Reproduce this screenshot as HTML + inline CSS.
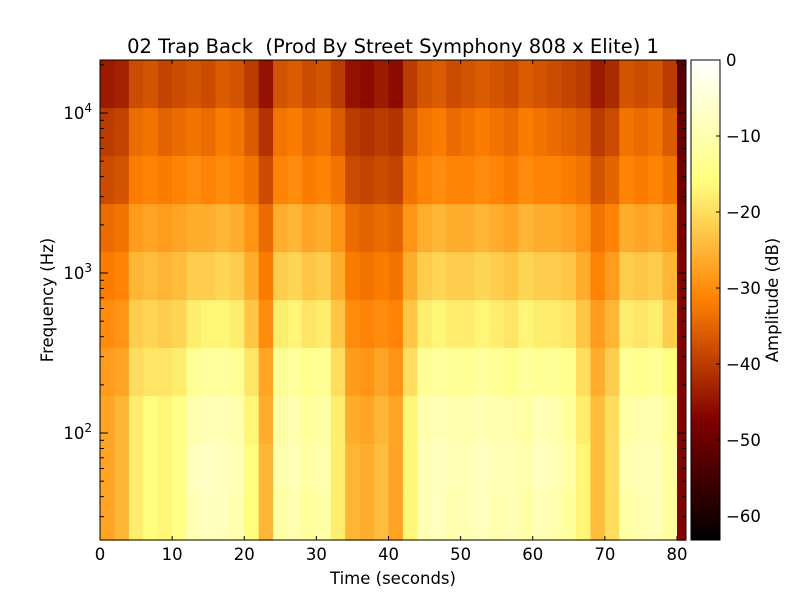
<!DOCTYPE html>
<html><head><meta charset="utf-8"><style>
body{margin:0;background:#fff}
svg text{font-family:"DejaVu Sans","Liberation Sans",sans-serif;fill:#000}
</style></head><body>
<svg id="chart" width="800" height="600" viewBox="0 0 800 600" xmlns="http://www.w3.org/2000/svg">
<defs>
<linearGradient id="cbg" x1="0" y1="1" x2="0" y2="0">
<stop offset="0" stop-color="#000"/><stop offset="0.25" stop-color="#800000"/><stop offset="0.5" stop-color="#ff8000"/><stop offset="0.75" stop-color="#ffff80"/><stop offset="1" stop-color="#fff"/>
</linearGradient>
</defs>
<rect width="800" height="600" fill="#fff"/>
<g id="cells"></g>
<rect x="100" y="60" width="586" height="480" fill="none" stroke="#000" stroke-width="1"/>
<g id="axes"></g>
<text x="393" y="53" font-size="19.5" text-anchor="middle" xml:space="preserve">02 Trap Back  (Prod By Street Symphony 808 x Elite) 1</text>
<text x="393" y="584" font-size="16.5" text-anchor="middle">Time (seconds)</text>
<text transform="translate(53,300) rotate(-90)" font-size="16.5" text-anchor="middle">Frequency (Hz)</text>
<rect x="691" y="60" width="29" height="480" fill="url(#cbg)" stroke="#000" stroke-width="1"/>
<g id="cbaxis"></g>
<text transform="translate(778,300) rotate(-90)" font-size="16.5" text-anchor="middle">Amplitude (dB)</text>
</svg>
<script>
const timeStarts=[0,2,4,6,8,10,12,14,16,18,20,22,24,26,28,30,32,34,36,38,40,42,44,46,48,50,52,54,56,58,60,62,64,66,68,70,72,74,76,78,80];
const timeEnd=81.25;
const bandEdgesLog=[4.33,4.03,3.73,3.43,3.13,2.83,2.53,2.23,1.93,1.63,1.33];
const dbRows=[
[-44,-43,-38,-37,-39,-38,-37,-38,-36,-37,-40,-45,-37,-36,-38,-37,-40,-45,-46,-44,-46,-40,-37,-36,-38,-37,-36,-37,-38,-36,-37,-38,-39,-40,-44,-42,-37,-38,-37,-40,-52],
[-40,-39,-34,-33,-35,-34,-33,-34,-32,-33,-36,-41,-33,-32,-34,-33,-36,-40,-41,-40,-41,-36,-33,-32,-34,-33,-32,-33,-34,-32,-33,-34,-35,-36,-40,-38,-33,-34,-33,-36,-50],
[-38,-37,-32,-31,-32,-31,-30,-31,-30,-31,-33,-38,-31,-30,-32,-31,-33,-38,-39,-38,-39,-33,-31,-30,-31,-31,-30,-31,-32,-30,-31,-31,-32,-33,-37,-35,-31,-32,-31,-33,-49],
[-34,-33,-28,-27,-28,-27,-26,-26,-25,-26,-29,-34,-26,-25,-27,-26,-29,-34,-35,-34,-35,-29,-26,-25,-26,-26,-25,-26,-27,-25,-26,-26,-27,-29,-33,-31,-26,-27,-26,-28,-48],
[-32,-31,-25,-24,-25,-24,-22,-22,-21,-22,-26,-32,-22,-21,-23,-22,-26,-32,-33,-32,-33,-26,-22,-21,-22,-22,-21,-22,-23,-21,-22,-22,-23,-26,-31,-28,-22,-23,-22,-25,-47],
[-30,-29,-22,-21,-22,-21,-18,-17,-17,-18,-23,-30,-18,-17,-19,-18,-23,-30,-31,-30,-31,-23,-18,-17,-18,-18,-17,-18,-19,-17,-18,-18,-19,-23,-28,-25,-18,-19,-18,-22,-47],
[-28,-27,-20,-19,-19,-18,-13,-12,-12,-13,-19,-27,-13,-12,-14,-13,-20,-28,-29,-27,-29,-20,-13,-12,-13,-13,-12,-13,-14,-12,-13,-13,-14,-20,-26,-22,-13,-14,-13,-16,-47],
[-27,-25,-18,-16,-17,-15,-10,-9,-9,-10,-17,-26,-11,-10,-12,-11,-18,-26,-27,-25,-27,-17,-10,-9,-10,-10,-9,-10,-10,-11,-9,-10,-12,-18,-24,-20,-11,-10,-10,-13,-47],
[-27,-25,-18,-16,-17,-15,-8,-7,-8,-9,-16,-25,-10,-9,-11,-10,-18,-25,-26,-24,-27,-17,-9,-8,-9,-9,-8,-9,-9,-10,-8,-9,-11,-17,-24,-20,-10,-9,-9,-12,-47],
[-27,-25,-18,-16,-17,-15,-9,-8,-8,-10,-16,-25,-11,-10,-12,-11,-18,-25,-26,-24,-27,-17,-9,-8,-10,-9,-8,-10,-9,-11,-9,-10,-12,-17,-24,-20,-11,-10,-9,-12,-47]
];
const xTicks=[0,10,20,30,40,50,60,70,80];
const yTickExps=[2,3,4];
const cbTicks=[0,-10,-20,-30,-40,-50,-60];
const dbMin=-63.16,dbMax=0;
const X0=100,X1=686,Y0=60,Y1=540;
const tMax=81.25,logTop=4.33125,logBot=1.33125;
function xs(t){return X0+(t/tMax)*(X1-X0);}
function ys(lg){return Y0+(logTop-lg)/(logTop-logBot)*(Y1-Y0);}
function cy(db){return Y0+(dbMax-db)/(dbMax-dbMin)*(Y1-Y0);}
function afmhot(db){let x=(db-dbMin)/(dbMax-dbMin);x=Math.max(0,Math.min(1,x));
 const c=v=>Math.round(255*Math.max(0,Math.min(1,v)));return `rgb(${c(2*x)},${c(2*x-0.5)},${c(2*x-1)})`;}
const NS='http://www.w3.org/2000/svg';
function mk(tag,at,parent){const e=document.createElementNS(NS,tag);for(const k in at)e.setAttribute(k,at[k]);parent.appendChild(e);return e;}
const cells=document.getElementById('cells');
dbRows.forEach((row,r)=>{row.forEach((v,c)=>{
 const t0=timeStarts[c],t1=c+1<timeStarts.length?timeStarts[c+1]:timeEnd;
 const x=xs(t0),w=xs(t1)-x,y=ys(bandEdgesLog[r]),h=ys(bandEdgesLog[r+1])-y;
 const e=mk('rect',{x:x,y:y,width:w+0.5,height:h+0.5,fill:afmhot(v)},cells);
 
 
});});
const ax=document.getElementById('axes');
xTicks.forEach(t=>{const x=xs(t);
 const a=mk('line',{x1:x,y1:Y1,x2:x,y2:Y1-4,stroke:'#000'},ax);
 
 
 const b=mk('line',{x1:x,y1:Y0,x2:x,y2:Y0+4,stroke:'#000'},ax);
 
 
 const l=mk('text',{x:x,y:Y1+20,'font-size':'16.5','text-anchor':'middle'},ax);l.textContent=t;
 
 
});
for(let e=1;e<=4;e++){for(let m=1;m<10;m++){const lg=e+Math.log10(m);if(lg<logBot||lg>logTop)continue;
 const y=ys(lg),len=m===1?8:4;
 const a=mk('line',{x1:X0,y1:y,x2:X0+len,y2:y,stroke:'#000'},ax);
 
 
 const b=mk('line',{x1:X1,y1:y,x2:X1-len,y2:y,stroke:'#000'},ax);
 
 
}}
yTickExps.forEach(p=>{const y=ys(p);
 const t=mk('text',{x:X0-8,y:y+6,'font-size':'16.5','text-anchor':'end'},ax);
 
 
 t.textContent='10';const s=mk('tspan',{dy:'-7','font-size':'12'},t);s.textContent=p;
});
const cb=document.getElementById('cbaxis');
cbTicks.forEach(v=>{const y=cy(v);
 const a=mk('line',{x1:720,y1:y,x2:716,y2:y,stroke:'#000'},cb);
 
 
 const l=mk('text',{x:726,y:y+6,'font-size':'16.5'},cb);l.textContent=v===0?'0':'\u2212'+(-v);
 
 
});
</script>
</body></html>
